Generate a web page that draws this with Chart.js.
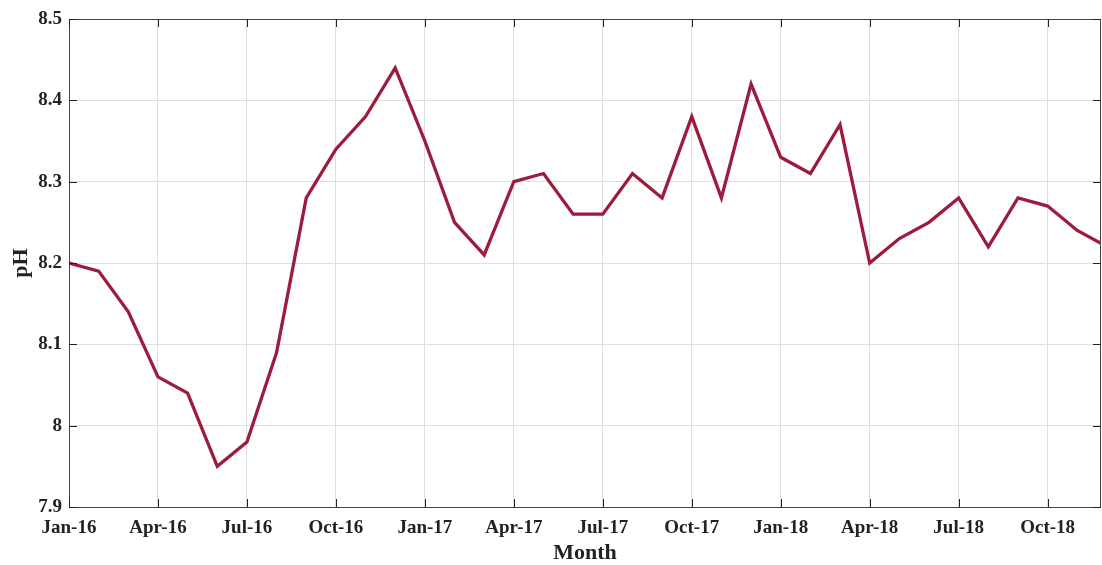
<!DOCTYPE html>
<html>
<head>
<meta charset="utf-8">
<script src="https://cdn.jsdelivr.net/npm/chart.js@4"></script>
<style>
  body { margin: 0; background: #fff; }
  #wrap { width: 1102px; height: 565px; }
</style>
</head>
<body>
<div id="wrap"><canvas id="phChart" width="1102" height="565"></canvas></div>
<script>
// ===== DATA =====
const months = [
  "Jan-16", "Feb-16", "Mar-16", "Apr-16", "May-16", "Jun-16",
  "Jul-16", "Aug-16", "Sep-16", "Oct-16", "Nov-16", "Dec-16",
  "Jan-17", "Feb-17", "Mar-17", "Apr-17", "May-17", "Jun-17",
  "Jul-17", "Aug-17", "Sep-17", "Oct-17", "Nov-17", "Dec-17",
  "Jan-18", "Feb-18", "Mar-18", "Apr-18", "May-18", "Jun-18",
  "Jul-18", "Aug-18", "Sep-18", "Oct-18", "Nov-18", "Dec-18"
];
const phValues = [
  8.20, 8.19, 8.14, 8.06, 8.04, 7.95,
  7.98, 8.09, 8.28, 8.34, 8.38, 8.44,
  8.35, 8.25, 8.21, 8.30, 8.31, 8.26,
  8.26, 8.31, 8.28, 8.38, 8.28, 8.42,
  8.33, 8.31, 8.37, 8.20, 8.23, 8.25,
  8.28, 8.22, 8.28, 8.27, 8.24, 8.22
];
const yTicks = [7.9, 8.0, 8.1, 8.2, 8.3, 8.4, 8.5];
const xTickStep = 3;   // one label per quarter

const points = phValues.map((v, i) => ({ x: i, y: v }));

// ===== BOX + INNER TICK MARKS (matlab look) =====
const boxPlugin = {
    id: "box",
    afterDraw(chart) {
        const { ctx, chartArea: a, scales } = chart;
        ctx.save();
        ctx.strokeStyle = "#444";
        ctx.lineWidth = 1;
        ctx.strokeRect(a.left + 0.5, a.top + 0.5, a.right - a.left - 1, a.bottom - a.top);
        ctx.strokeStyle = "#222";
        const len = 8;
        scales.x.ticks.forEach(t => {
            const px = Math.round(scales.x.getPixelForValue(t.value)) + 0.5;
            ctx.beginPath();
            ctx.moveTo(px, a.bottom); ctx.lineTo(px, a.bottom - len);
            ctx.moveTo(px, a.top); ctx.lineTo(px, a.top + len);
            ctx.stroke();
        });
        scales.y.ticks.forEach(t => {
            const py = Math.round(scales.y.getPixelForValue(t.value)) + 0.5;
            ctx.beginPath();
            ctx.moveTo(a.left, py); ctx.lineTo(a.left + len, py);
            ctx.moveTo(a.right, py); ctx.lineTo(a.right - len, py);
            ctx.stroke();
        });
        ctx.restore();
    }
};

// ===== CHART =====
const ctx = document.getElementById("phChart").getContext("2d");
const font = { family: "'Liberation Serif', 'Times New Roman', serif", weight: "bold" };

const phChart = new Chart(ctx, {
    type: "line",
    data: {
        datasets: [{
            label: "pH",
            data: points,
            borderColor: "#9b1c3c",
            borderWidth: 3.3,
            pointRadius: 0,
            tension: 0,
            clip: 0
        }]
    },
    options: {
        responsive: false,
        animation: false,
        layout: { padding: { top: 19, right: 1, left: 0, bottom: 0 } },
        plugins: { legend: { display: false }, tooltip: { enabled: false } },
        scales: {
            x: {
                type: "linear",
                min: 0,
                max: 34.8,
                afterBuildTicks(scale) {
                    scale.ticks = months
                        .map((m, i) => ({ value: i }))
                        .filter(t => t.value % xTickStep === 0);
                },
                afterFit(scale) { scale.height = 58; },
                ticks: {
                    color: "#222",
                    font: { ...font, size: 19 },
                    padding: 10,
                    maxRotation: 0,
                    autoSkip: false,
                    callback: (v) => months[v]
                },
                grid: { color: "#dedede", drawTicks: false },
                border: { display: false },
                title: {
                    display: true,
                    text: "Month",
                    color: "#222",
                    font: { ...font, size: 22, lineHeight: 1 },
                    padding: { top: 0, bottom: 1 }
                }
            },
            y: {
                min: 7.9,
                max: 8.5,
                afterBuildTicks(scale) {
                    scale.ticks = yTicks.map(v => ({ value: v }));
                },
                afterFit(scale) { scale.width = 69; },
                ticks: {
                    color: "#222",
                    font: { ...font, size: 19 },
                    padding: 7,
                    callback: (v) => String(Math.round(v * 10) / 10)
                },
                grid: { color: "#dedede", drawTicks: false },
                border: { display: false },
                title: {
                    display: true,
                    text: "pH",
                    color: "#222",
                    font: { ...font, size: 22 },
                    padding: { top: 8, bottom: 0 }
                }
            }
        }
    },
    plugins: [boxPlugin]
});
</script>
</body>
</html>
